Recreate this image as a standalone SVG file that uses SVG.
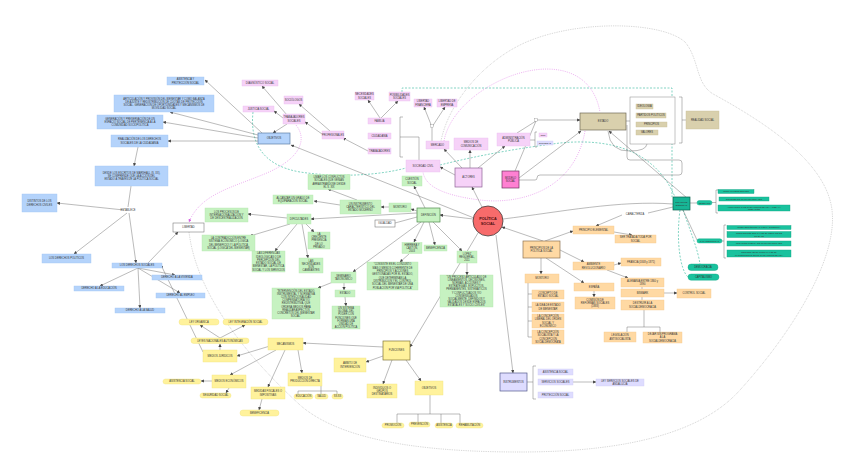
<svg xmlns="http://www.w3.org/2000/svg" width="848" height="471" viewBox="0 0 848 471">
<defs>
<style>
text{font-family:"Liberation Sans",Arial,sans-serif;font-size:2.6px;fill:#333;text-anchor:middle}
.b{fill:#b4d3fb;stroke:#a2c5f2;stroke-width:.4}
.p{fill:#f6d2f8;stroke:#ecbdf0;stroke-width:.4}
.g{fill:#c6f2c1;stroke:#b3e6ae;stroke-width:.4}
.t{fill:#d9d0ad;stroke:#c9bf98;stroke-width:.4}
.o{fill:#ffd9a3;stroke:#f2c98e;stroke-width:.4}
.y{fill:#fff29c;stroke:#f1e37f;stroke-width:.4}
.tl{fill:#19c29e;stroke:#12a383;stroke-width:.4}
.l{fill:#dedcff;stroke:#cfccf5;stroke-width:.4}
.w{fill:#fff;stroke:#666;stroke-width:.5}
.e{fill:none;stroke:#666;stroke-width:.45}
.ea{fill:none;stroke:#666;stroke-width:.45;marker-end:url(#ar)}
.mg{fill:none;stroke:#e07ce8;stroke-width:.6;stroke-dasharray:1 1.2}
.td{fill:none;stroke:#2fb79a;stroke-width:.6;stroke-dasharray:2 1.5}
.gd{fill:none;stroke:#9a9a9a;stroke-width:.5;stroke-dasharray:.8 1}
</style>
<marker id="ar" viewBox="0 0 6 6" refX="5.5" refY="3" markerWidth="3.2" markerHeight="3.2" markerUnits="userSpaceOnUse" orient="auto"><path d="M0 0L6 3L0 6z" fill="#444"/></marker>
<marker id="am" viewBox="0 0 6 6" refX="5.5" refY="3" markerWidth="3.2" markerHeight="3.2" markerUnits="userSpaceOnUse" orient="auto"><path d="M0 0L6 3L0 6z" fill="#d65ce0"/></marker>
</defs>
<rect width="848" height="471" fill="#fff"/>

<g id="background-curves">
<path class="gd" d="M189 232 C196 290 240 350 300 405 C340 440 420 452 520 452 C620 452 700 435 740 390 C790 335 838 260 832 210 C826 160 760 120 715 95 C695 85 700 60 685 42 C660 20 570 20 520 45 C480 65 448 105 441 141"/>
<path class="mg" d="M296 125 C308 140 300 160 262 175 C230 188 200 195 189 222" marker-end="url(#am)"/>
<path class="mg" d="M444 141 C455 80 585 30 600 112"/>
<path class="mg" d="M585 131 C575 190 520 205 480 200 C440 195 425 185 423 172"/>
<path class="td" d="M402 92 L402 88 L672 88 L672 197"/>
<path class="td" d="M253 112 C250 140 260 165 300 172 C340 178 380 175 406 168"/>
<path class="td" d="M440 165 C480 155 520 148 560 143 C610 138 655 150 675 197"/>
<path class="td" d="M683 210 C690 230 698 250 700 264"/>
<path class="td" d="M680 210 C676 240 680 270 688 277"/>
</g>

<g id="connectors">
<path class="ea" d="M262 133L205 80"/>
<path class="ea" d="M258 135L170 112"/>
<path class="ea" d="M258 138L163 122"/>
<path class="ea" d="M258 141L168 141"/>
<path class="ea" d="M138 147L134 166"/>
<path class="e" d="M131 186L128 207"/>
<path class="ea" d="M124 210L57 203"/>
<path class="ea" d="M127 213L74 254"/>
<path class="ea" d="M129 213L136 263"/>
<path class="ea" d="M138 268L175 275"/>
<path class="ea" d="M138 268L100 286"/>
<path class="ea" d="M138 268L180 293"/>
<path class="ea" d="M138 268L140 308"/>
<path class="ea" d="M148 263L178 232"/>
<path class="ea" d="M203 352L161 265"/>
<path class="ea" d="M287 115L262 86"/>
<path class="ea" d="M283 118L274 111"/>
<path class="ea" d="M287 124L273 133"/>
<path class="ea" d="M330 131L299 104"/>
<path class="ea" d="M322 134L305 122"/>
<path class="ea" d="M368 151L343 138"/>
<path class="ea" d="M380 118L368 100"/>
<path class="ea" d="M381 118L398 101"/>
<path class="e" d="M403 117L400 117L400 157L403 157M400 137L419 137L419 160"/>
<path class="e" d="M432 141L432 127"/>
<path class="ea" d="M432 127L424 107"/>
<path class="ea" d="M432 127L445 107"/>
<rect x="430.8" y="124.5" width="2.4" height="2.6" fill="#fff" stroke="#777" stroke-width=".3"/>
<path class="ea" d="M462 168L444 149"/>
<path class="ea" d="M470 168L470 150"/>
<path class="ea" d="M478 168L505 146"/>
<path class="ea" d="M455 175L440 167"/>
<path class="ea" d="M482 207L472 187"/>
<path class="e" d="M517 133L536 121"/>
<path class="ea" d="M536 120L580 120"/>
<path class="e" d="M515 171L536 121"/>
<rect x="534.8" y="118.7" width="2.4" height="2.6" fill="#fff" stroke="#777" stroke-width=".3"/>
<path class="e" d="M530 140L535 140M537 132L535 132L535 147L537 147"/>
<path class="ea" d="M519 178L581 131"/>
<path class="e" d="M519 180L535 180Q537 180 537 178Q537 175 540 175L679 175Q682 175 682 172L682 163Q682 160 679 160L630 160Q627 160 627 157L627 125"/>
<path class="e" d="M626 121L630 121"/>
<path class="e" d="M608 131Q610 152 630 151Q646 151 647 144"/>
<path class="e" d="M679 97L682 97L682 143L679 143M682 120L686 120"/>
<path class="ea" d="M687 198L609 131"/>
<path class="e" d="M503 219C560 212 620 200 673 204"/>
<path class="e" d="M673 207L648 213"/>
<path class="ea" d="M622 215L596 226"/>
<path class="e" d="M690 203L697 203"/>
<path class="e" d="M683 210L697 240"/>
<path class="e" d="M712 202.5L716 202.5M718 190L716 190L716 213L718 213"/>
<path class="e" d="M722 241L724 241M726 225L724 225L724 258L726 258"/>
<path class="ea" d="M473 219L440 215"/>
<path class="ea" d="M543 241L502 227"/>
<path class="ea" d="M496 235L513 373"/>
<path class="ea" d="M478 233L410 347"/>
<path class="ea" d="M425 208L414 186"/>
<path class="ea" d="M417 211L411 209"/>
<path class="ea" d="M389 207L381 207"/>
<path class="ea" d="M357 200L328 189"/>
<path class="ea" d="M340 205L314 201"/>
<path class="ea" d="M417 213L311 219"/>
<path class="e" d="M395 223L417 217"/>
<path class="ea" d="M424 222L414 242"/>
<path class="ea" d="M429 222L435 245"/>
<path class="ea" d="M433 222L462 251"/>
<path class="ea" d="M421 222L353 272"/>
<path class="ea" d="M409 254L400 262"/>
<path class="ea" d="M467 263L467 275"/>
<path class="ea" d="M287 218L248 214"/>
<path class="ea" d="M290 224L250 236"/>
<path class="ea" d="M297 224L275 251"/>
<path class="ea" d="M302 224L308 258"/>
<path class="ea" d="M306 224L314 232"/>
<path class="ea" d="M333 282L318 288"/>
<path class="ea" d="M344 283L344 290"/>
<path class="ea" d="M345 297L346 306"/>
<path class="ea" d="M474 218L291 145"/>
<path class="ea" d="M383 347L303 343"/>
<path class="ea" d="M383 356L366 362"/>
<path class="ea" d="M392 360L383 384"/>
<path class="ea" d="M406 360L421 381"/>
<path class="e" d="M430 395L430 414M397 423L397 414L460 414L460 423M418 414L418 422M441 414L441 423"/>
<path class="ea" d="M270 346L237 356"/>
<path class="ea" d="M276 350L230 375"/>
<path class="ea" d="M285 350L268 387"/>
<path class="ea" d="M298 350L302 373"/>
<path class="ea" d="M220 350L220 344"/>
<path class="ea" d="M220 338L200 325"/>
<path class="ea" d="M220 338L245 325"/>
<path class="ea" d="M212 381L201 381"/>
<path class="ea" d="M229 388L226 393"/>
<path class="ea" d="M262 399L259 410"/>
<path class="e" d="M321 386L321 394M298 394L298 391L337 391L337 394"/>
<path class="e" d="M527 382L533 382M536 366L533 366L533 399L536 399"/>
<path class="ea" d="M573 382L596 382"/>
<path class="ea" d="M545 241L573 231"/>
<path class="ea" d="M614 232L632 235"/>
<path class="ea" d="M560 250L584 262"/>
<path class="ea" d="M614 265L621 263"/>
<path class="ea" d="M607 270L628 278"/>
<path class="e" d="M642 287L642 289M642 297L642 300"/>
<path class="ea" d="M664 293L677 293"/>
<path class="e" d="M644 310L644 327M627 332L627 327L660 327L660 332"/>
<path class="ea" d="M541 258L541 274"/>
<path class="ea" d="M546 258L584 283"/>
<path class="ea" d="M594 291L594 297"/>
<path class="e" d="M528 283L528 337M528 294L532 294M528 307L532 307M528 321L532 321M528 337L532 337"/>
</g>

<g id="n-asist"><rect class="b" x="167" y="77" width="37" height="8"/><text><tspan x="185.5" y="80.3">ASISTENCIA Y</tspan><tspan x="185.5" y="83.6">PROTECCIÓN SOCIAL</tspan></text></g>
<g id="n-artic"><rect class="b" x="114" y="95" width="100" height="17"/><text><tspan x="164" y="99.5">ARTICULACIÓN Y PROVISIÓN DEL BIENESTAR Y COMO BALANZA</tspan><tspan x="164" y="102.8">DE AJUSTE Y REDISTRIBUCIÓN DE CUOTAS DE PROTECCIÓN</tspan><tspan x="164" y="106.1">SOCIAL. GENERACIÓN DE OPORTUNIDADES Y MECANISMOS DE</tspan><tspan x="164" y="109.4">MOVILIDAD SOCIAL</tspan></text></g>
<g id="n-gener"><rect class="b" x="97" y="115" width="66" height="14"/><text><tspan x="130" y="119.6">GENERACIÓN Y PRESERVACIÓN DE UN</tspan><tspan x="130" y="122.9">ESPACIO SOCIAL DE PERTENENCIA A LA</tspan><tspan x="130" y="126.2">COMUNIDAD SOCIOPOLÍTICA</tspan></text></g>
<g id="n-realiz"><rect class="b" x="111" y="135" width="57" height="12"/><text><tspan x="139.5" y="140.3">REALIZACIÓN DE LOS DERECHOS</tspan><tspan x="139.5" y="143.6">SOCIALES DE LA CIUDADANÍA</tspan></text></g>
<g id="n-desde"><rect class="b" x="95" y="166" width="73" height="20"/><text><tspan x="131.5" y="173.6">DESDE LOS ESCRITOS DE MARSHALL (S. XX),</tspan><tspan x="131.5" y="176.9">SE COMPRENDE QUE LA ACCIÓN DEL</tspan><tspan x="131.5" y="180.2">ESTADO A TRAVÉS DE LA POLÍTICA SOCIAL</tspan></text></g>
<g id="n-establece"><text x="128" y="210.9">ESTABLECE</text></g>
<g id="n-distintos"><rect class="b" x="22" y="194" width="35" height="18"/><text><tspan x="39.5" y="202.3">DISTINTOS DE LOS</tspan><tspan x="39.5" y="205.6">DERECHOS CIVILES</tspan></text></g>
<g id="n-politicos"><rect class="b" x="42" y="254" width="49" height="9"/><text x="66.5" y="259.4">LOS DERECHOS POLÍTICOS</text></g>
<g id="n-sociales"><rect class="b" x="112" y="263" width="50" height="5"/><text x="137" y="266.4">LOS DERECHOS SOCIALES</text></g>
<g id="n-vivienda"><rect class="b" x="152" y="275" width="50" height="5"/><text x="177" y="278.4">DERECHO A LA VIVIENDA</text></g>
<g id="n-educacion"><rect class="b" x="74" y="286" width="50" height="5"/><text x="99" y="289.4">DERECHO A LA EDUCACIÓN</text></g>
<g id="n-empleo"><rect class="b" x="156" y="293" width="49" height="5"/><text x="180.5" y="296.4">DERECHO AL EMPLEO</text></g>
<g id="n-salud"><rect class="b" x="115" y="308" width="50" height="5"/><text x="140" y="311.4">DERECHO A LA SALUD</text></g>
<g id="n-objetivos"><rect class="b" x="258" y="133" width="32" height="11" style="stroke:#5d7fa6;stroke-width:.7"/><text x="274" y="139.4">OBJETIVOS</text></g>

<g id="n-diag"><rect class="p" x="242" y="80" width="36" height="6"/><text x="260" y="83.9">DIAGNÓSTICO SOCIAL</text></g>
<g id="n-justicia"><rect class="p" x="243" y="106" width="31" height="6"/><text x="258.5" y="109.9">JUSTICIA SOCIAL</text></g>
<g id="n-sociologos"><rect class="p" x="284" y="96" width="19" height="8"/><text x="293.5" y="100.9">SOCIÓLOGOS</text></g>
<g id="n-trabsoc"><rect class="p" x="283" y="114" width="22" height="10"/><text><tspan x="294" y="118.3">TRABAJADORES</tspan><tspan x="294" y="121.6">SOCIALES</tspan></text></g>
<g id="n-profes"><rect class="p" x="322" y="131" width="22" height="8"/><text x="333" y="135.9">PROFESIONALES</text></g>
<g id="n-necesid"><rect class="p" x="355" y="92" width="19" height="8"/><text><tspan x="364.5" y="95.3">NECESIDADES</tspan><tspan x="364.5" y="98.6">SOCIALES</tspan></text></g>
<g id="n-posib"><rect class="p" x="389" y="92" width="21" height="9"/><text><tspan x="399.5" y="95.8">POSIBILIDADES</tspan><tspan x="399.5" y="99.1">SOCIALES</tspan></text></g>
<g id="n-familia"><rect class="p" x="368" y="118" width="23" height="6"/><text x="379.5" y="121.9">FAMILIA</text></g>
<g id="n-ciudadania"><rect class="p" x="368" y="133" width="23" height="6"/><text x="379.5" y="136.9">CIUDADANÍA</text></g>
<g id="n-trabajadores"><rect class="p" x="368" y="148" width="23" height="6"/><text x="379.5" y="151.9">TRABAJADORES</text></g>
<g id="n-libfin"><rect class="p" x="414" y="99" width="18" height="8"/><text><tspan x="423" y="102.3">LIBERTAD</tspan><tspan x="423" y="105.6">FINANCIERA</tspan></text></g>
<g id="n-libemp"><rect class="p" x="437" y="99" width="20" height="8"/><text><tspan x="447" y="102.3">LIBERTAD DE</tspan><tspan x="447" y="105.6">EMPRESA</tspan></text></g>
<g id="n-mercado"><rect class="p" x="426" y="141" width="23" height="8"/><text x="437.5" y="145.9">MERCADO</text></g>
<g id="n-medios"><rect class="p" x="454" y="138" width="34" height="12"/><text><tspan x="471" y="143.3">MEDIOS DE</tspan><tspan x="471" y="146.6">COMUNICACIÓN</tspan></text></g>
<g id="n-admin"><rect class="p" x="497" y="133" width="33" height="13"/><text><tspan x="513.5" y="138.8">ADMINISTRACIÓN</tspan><tspan x="513.5" y="142.1">PÚBLICA</tspan></text></g>
<g id="n-socciv"><rect class="p" x="406" y="160" width="34" height="12"/><text x="423" y="166.9">SOCIEDAD CIVIL</text></g>
<g id="n-actores"><rect class="p" x="455" y="168" width="27" height="19" style="stroke:#8e6196;stroke-width:.7"/><text x="468.5" y="178.4">ACTORES</text></g>
<g id="n-ong"><rect class="p" x="539" y="133" width="8" height="4"/><text x="543" y="135.9" style="font-size:2.2px">ONG</text></g>
<g id="n-empresas"><rect class="l" x="537" y="141" width="16" height="4"/><text x="545" y="143.9" style="font-size:2.2px">EMPRESAS</text></g>
<g id="n-modelo"><rect x="502" y="171" width="17" height="17" fill="#ff80d2" stroke="#6d3560" stroke-width=".7"/><text><tspan x="510.5" y="178.8">MODELO</tspan><tspan x="510.5" y="182.1">SOCIAL</tspan></text></g>

<g id="n-estado"><rect class="t" x="580" y="113" width="46" height="17" style="stroke:#6f6a58;stroke-width:.7"/><text x="603" y="122.4">ESTADO</text></g>
<g id="n-ideobox"><rect x="630" y="97" width="45" height="47" fill="#fff" stroke="#888" stroke-width=".5"/></g>
<g id="n-ideologia"><rect class="t" x="636" y="104" width="17" height="5"/><text x="644.5" y="107.4">IDEOLOGÍA</text></g>
<g id="n-partidos"><rect class="t" x="636" y="113" width="30" height="5"/><text x="651" y="116.4">PARTIDOS POLÍTICOS</text></g>
<g id="n-principios"><rect class="t" x="636" y="122" width="31" height="5"/><text x="651.5" y="125.4">PRINCIPIOS</text></g>
<g id="n-valores"><rect class="t" x="636" y="130" width="22" height="5"/><text x="647" y="133.4">VALORES</text></g>
<g id="n-realidad"><rect class="t" x="686" y="111" width="33" height="18"/><text x="702.5" y="120.9">REALIDAD SOCIAL</text></g>

<g id="n-limar"><rect class="g" x="308" y="174.5" width="42" height="15"/><text><tspan x="329" y="178">LIMAR LOS CONFLICTOS</tspan><tspan x="329" y="181.3">SOCIALES QUE VENÍAN</tspan><tspan x="329" y="184.6">ARRASTRÁNDOSE DESDE</tspan><tspan x="329" y="187.9">EL S. XIX</tspan></text></g>
<g id="n-alcanzar"><rect class="g" x="273" y="195" width="40" height="9"/><text><tspan x="293" y="198.8">ALCANZAR UN GRADO DE</tspan><tspan x="293" y="202.1">EQUIPARACIÓN SOCIAL</tspan></text></g>
<g id="n-instrum"><rect class="g" x="340" y="200" width="41" height="14"/><text><tspan x="360.5" y="204.6">UN INSTRUMENTO</tspan><tspan x="360.5" y="207.9">CARACTERÍSTICO DEL</tspan><tspan x="360.5" y="211.2">ESTADO MODERNO</tspan></text></g>
<g id="n-montoro-g"><rect class="g" x="389" y="203" width="22" height="9"/><text x="400" y="208.4">MONTORO</text></g>
<g id="n-definicion"><rect class="g" x="417" y="208" width="23" height="14" style="stroke:#4f8a4c;stroke-width:.7"/><text x="428.5" y="215.9">DEFINICIÓN</text></g>
<g id="n-cuestion"><rect class="g" x="402" y="176" width="20" height="10"/><text><tspan x="412" y="180.3">CUESTIÓN</tspan><tspan x="412" y="183.6">SOCIAL</tspan></text></g>
<g id="n-igualdad"><rect class="w" x="375" y="220" width="20" height="7"/><text x="385" y="224.4">IGUALDAD</text></g>
<g id="n-dificult"><rect class="g" x="287" y="214" width="24" height="10"/><text x="299" y="219.9">DIFICULTADES</text></g>
<g id="n-procesos"><rect class="g" x="205" y="208" width="43" height="14"/><text><tspan x="226.5" y="212.6">LOS PROCESOS DE</tspan><tspan x="226.5" y="215.9">INTERNACIONALIZACIÓN Y</tspan><tspan x="226.5" y="219.2">DE DESCENTRALIZACIÓN</tspan></text></g>
<g id="n-contrad"><rect class="g" x="202" y="235" width="53" height="16"/><text><tspan x="228.5" y="239">LA CONTRADICCIÓN ENTRE</tspan><tspan x="228.5" y="242.3">SISTEMA ECONÓMICO (LÓGICA</tspan><tspan x="228.5" y="245.6">DEL BENEFICIO) Y LA POLÍTICA</tspan><tspan x="228.5" y="248.9">SOCIAL (LÓGICA DEL BIENESTAR)</tspan></text></g>
<g id="n-diferenc"><rect class="g" x="252" y="251" width="33" height="21"/><text><tspan x="268.5" y="254.2">LAS DIFERENCIAS</tspan><tspan x="268.5" y="257.5">IDEOLÓGICAS O DE</tspan><tspan x="268.5" y="260.8">PERCEPCIÓN DEL</tspan><tspan x="268.5" y="264.1">ESTADO SOCIAL DE</tspan><tspan x="268.5" y="267.4">BIENESTAR, LA POLÍTICA</tspan><tspan x="268.5" y="270.7">SOCIAL Y LOS SERVICIOS</tspan></text></g>
<g id="n-cambiantes"><rect class="g" x="299" y="258" width="24" height="15"/><text><tspan x="311" y="261.5">LAS</tspan><tspan x="311" y="264.8">NECESIDADES</tspan><tspan x="311" y="268.1">SON</tspan><tspan x="311" y="271.4">CAMBIANTES</tspan></text></g>
<g id="n-creciente"><rect class="g" x="308" y="232" width="22" height="17"/><text><tspan x="319" y="234.8">LA</tspan><tspan x="319" y="238.1">CRECIENTE</tspan><tspan x="319" y="241.4">PRESENCIA</tspan><tspan x="319" y="244.7">DE LO</tspan><tspan x="319" y="248">PRIVADO</tspan></text></g>
<g id="n-herrera"><rect class="g" x="402" y="242.5" width="20" height="11"/><text><tspan x="412" y="245.6">HERRERA Y</tspan><tspan x="412" y="248.9">CASTÓN,</tspan><tspan x="412" y="252.2">2003</tspan></text></g>
<g id="n-benef-g"><rect class="g" x="424" y="245" width="23" height="6"/><text x="435.5" y="248.9">BENEFICENCIA</text></g>
<g id="n-lopez"><rect class="g" x="457" y="251" width="20" height="12"/><text><tspan x="467" y="254.6">LÓPEZ</tspan><tspan x="467" y="257.9">REGUERIAL,</tspan><tspan x="467" y="261.2">2011</tspan></text></g>
<g id="n-consiste"><rect class="g" x="367" y="262" width="51" height="28"/><text><tspan x="392.5" y="265.4">"CONSISTE EN EL CONJUNTO</tspan><tspan x="392.5" y="268.7">MÁS O MENOS COHERENTE DE</tspan><tspan x="392.5" y="272">PRINCIPIOS Y ACCIONES</tspan><tspan x="392.5" y="275.3">GESTIONADAS POR EL ESTADO,</tspan><tspan x="392.5" y="278.6">QUE DETERMINAN LA</tspan><tspan x="392.5" y="281.9">DISTRIBUCIÓN Y EL CONTROL</tspan><tspan x="392.5" y="285.2">SOCIAL DEL BIENESTAR DE UNA</tspan><tspan x="392.5" y="288.5">POBLACIÓN POR VÍA POLÍTICA"</tspan></text></g>
<g id="n-proceso"><rect class="g" x="440" y="275" width="53" height="32"/><text><tspan x="466.5" y="278">"UN PROCESO ARTICULADO DE</tspan><tspan x="466.5" y="281.1">LINEAMIENTOS, DECISIONES,</tspan><tspan x="466.5" y="284.2">NORMAS, ACCIONES Y</tspan><tspan x="466.5" y="287.3">ESTRATEGIAS, EXPLÍCITOS,</tspan><tspan x="466.5" y="290.4">PERMANENTES, SISTEMÁTICOS</tspan><tspan x="466.5" y="293.5">Y CONFLICTUADOS Y/O</tspan><tspan x="466.5" y="296.6">CONSENSUADOS</tspan><tspan x="466.5" y="299.7">SOCIALMENTE, DEFINIDOS Y</tspan><tspan x="466.5" y="302.8">VALIDADOS DESDE ESPACIOS</tspan><tspan x="466.5" y="305.9">ESTATALES Y SOCIO-CIVILES"</tspan></text></g>
<g id="n-seminario"><rect class="g" x="331" y="272" width="25" height="11"/><text><tspan x="343.5" y="276.8">SEMINARIO</tspan><tspan x="343.5" y="280.1">TAXONÓMICO</tspan></text></g>
<g id="n-estado-g"><rect class="g" x="335" y="290" width="20" height="7"/><text x="345" y="294.4">ESTADO</text></g>
<g id="n-sistema"><rect class="g" x="332" y="306" width="28" height="23"/><text><tspan x="346" y="309.2">UN SISTEMA</tspan><tspan x="346" y="312.3">GLOBAL DEL</tspan><tspan x="346" y="315.4">PODER CON</tspan><tspan x="346" y="318.5">FUNCIONES QUE</tspan><tspan x="346" y="321.6">FORMAN UNA</tspan><tspan x="346" y="324.7">UNIDAD DE</tspan><tspan x="346" y="327.8">ACCIÓN POLÍTICA</tspan></text></g>
<g id="n-interv"><rect class="g" x="272" y="288" width="48" height="31"/><text><tspan x="296" y="291.6">"INTERVENCIÓN DEL ESTADO,</tspan><tspan x="296" y="294.8">INSTRUMENTAL Y NORMATIVA</tspan><tspan x="296" y="298">CON INTENCIONALIDAD</tspan><tspan x="296" y="301.2">COMPENSATORIA Y/O</tspan><tspan x="296" y="304.4">REDISTRIBUTIVA, QUE</tspan><tspan x="296" y="307.6">ORDENA MEDIOS PARA</tspan><tspan x="296" y="310.8">REALIZAR ASPECTOS</tspan><tspan x="296" y="314">CONCRETOS DEL BIENESTAR</tspan><tspan x="296" y="317.2">SOCIAL"</tspan></text></g>
<g id="n-libertad"><rect class="w" x="173" y="223" width="31" height="9"/><text x="188.5" y="228.4">LIBERTAD</text></g>

<g id="n-politica-social"><circle cx="488" cy="221" r="15" fill="#f76b6b" stroke="#3d3d3d" stroke-width=".8"/><text style="font-size:3.8px;font-weight:bold;fill:#4a0b0b"><tspan x="488" y="220">POLÍTICA</tspan><tspan x="488" y="224.5">SOCIAL</tspan></text></g>

<g id="n-principios-ps"><rect class="o" x="523" y="241" width="37" height="17" style="stroke:#8d7353;stroke-width:.7"/><text><tspan x="541.5" y="248.8">PRINCIPIOS DE LA</tspan><tspan x="541.5" y="252.1">POLÍTICA SOCIAL</tspan></text></g>
<g id="n-elemental"><rect class="o" x="573" y="226" width="41" height="8"/><text x="593.5" y="230.9">PRINCIPIO ELEMENTAL</text></g>
<g id="n-ser"><rect class="o" x="615" y="235" width="41" height="8"/><text><tspan x="635.5" y="238.3">SER TRATADA TODA POR</tspan><tspan x="635.5" y="241.6">SOCIAL</tspan></text></g>
<g id="n-caracteriza"><text x="635" y="215">CARACTERIZA</text></g>
<g id="n-ambiente"><rect class="o" x="573" y="262" width="41" height="8"/><text><tspan x="593.5" y="265.3">AMBIENTE</tspan><tspan x="593.5" y="268.6">REVOLUCIONARIO</tspan></text></g>
<g id="n-francia"><rect class="o" x="621" y="258" width="40" height="8"/><text x="641" y="262.9">FRANCIA (1848 y 1871)</text></g>
<g id="n-alemania"><rect class="o" x="621" y="278" width="43" height="9"/><text><tspan x="642.5" y="281.8">ALEMANIA ENTRE 1860 y</tspan><tspan x="642.5" y="285.1">1890</tspan></text></g>
<g id="n-bismark"><rect class="o" x="621" y="289" width="43" height="8"/><text x="642.5" y="293.9">BISMARK</text></g>
<g id="n-control"><rect class="o" x="677" y="289" width="34" height="9"/><text x="694" y="294.4">CONTROL SOCIAL</text></g>
<g id="n-destruir"><rect class="o" x="621" y="300" width="43" height="10"/><text><tspan x="642.5" y="304.3">DESTRUIR A LA</tspan><tspan x="642.5" y="307.6">SOCIALDEMOCRACIA</tspan></text></g>
<g id="n-legis"><rect class="o" x="604" y="332" width="32" height="10"/><text><tspan x="620" y="336.3">LEGISLACIÓN</tspan><tspan x="620" y="339.6">ANTISOCIALISTA</tspan></text></g>
<g id="n-dejar"><rect class="o" x="643" y="332" width="39" height="11"/><text><tspan x="662.5" y="335.1">DEJAR SIN PROGRAMA</tspan><tspan x="662.5" y="338.4">A LA</tspan><tspan x="662.5" y="341.7">SOCIALDEMOCRACIA</tspan></text></g>
<g id="n-montoro-o"><rect class="o" x="525" y="274" width="34" height="9"/><text x="542" y="279.4">MONTORO</text></g>
<g id="n-concepto"><rect class="o" x="532" y="290" width="32" height="9"/><text><tspan x="548" y="293.8">CONCEPTO DE</tspan><tspan x="548" y="297.1">ESTADO SOCIAL</tspan></text></g>
<g id="n-idea"><rect class="o" x="532" y="302" width="32" height="10"/><text><tspan x="548" y="306.3">LA IDEA DE ESTADO</tspan><tspan x="548" y="309.6">DE BIENESTAR</tspan></text></g>
<g id="n-liberal"><rect class="o" x="532" y="314" width="32" height="14"/><text><tspan x="548" y="317">LA CONCEPCIÓN</tspan><tspan x="548" y="320.3">LIBERAL DEL ORDEN</tspan><tspan x="548" y="323.6">SOCIAL Y</tspan><tspan x="548" y="326.9">ECONÓMICO</tspan></text></g>
<g id="n-socialista"><rect class="o" x="532" y="330" width="32" height="14"/><text><tspan x="548" y="333">LA CONCEPCIÓN</tspan><tspan x="548" y="336.3">SOCIALISTA Y LA</tspan><tspan x="548" y="339.6">CONCEPCIÓN</tspan><tspan x="548" y="342.9">SOCIALDEMÓCRATA</tspan></text></g>
<g id="n-espana"><rect class="o" x="574" y="283" width="40" height="8"/><text x="594" y="287.9">ESPAÑA</text></g>
<g id="n-comision"><rect class="o" x="575" y="297" width="40" height="12"/><text><tspan x="595" y="300.6">COMISIÓN DE</tspan><tspan x="595" y="303.9">REFORMAS SOCIALES</tspan><tspan x="595" y="307.2">(1883)</tspan></text></g>

<g id="n-eb"><rect x="673" y="197" width="17" height="13" fill="#17b595" stroke="#0b5e4c" stroke-width=".7"/><text style="font-size:2.1px"><tspan x="681.5" y="202.8">ESTADO DE</tspan><tspan x="681.5" y="205.8">BIENESTAR</tspan></text></g>
<g id="n-obj-t"><rect class="tl" x="697" y="200.5" width="15" height="4.5" rx="2.2"/><text x="704.5" y="203.5" style="font-size:2.1px">OBJETIVOS</text></g>
<g id="n-pleno"><rect class="tl" x="718" y="189.5" width="36" height="4"/><text x="736" y="192.3" style="font-size:2.1px">LOGRAR PLENO EMPLEO</text></g>
<g id="n-disponer"><rect class="tl" x="719" y="197" width="50" height="4"/><text x="744" y="199.8" style="font-size:2.1px">DISPONER DE SS.SS UNIVERSALES</text></g>
<g id="n-aprov"><rect class="tl" x="718" y="205" width="72" height="6"/><text style="font-size:2.1px"><tspan x="754" y="207.6">APROVISIONAR DE NIVEL MÍNIMO DE VIDA A TODA LA</tspan><tspan x="754" y="210.1">POBLACIÓN</tspan></text></g>
<g id="n-carac"><rect class="tl" x="697" y="238.8" width="25" height="4.2" rx="2"/><text x="709.5" y="241.7" style="font-size:2.1px">CARACTERÍSTICAS</text></g>
<g id="n-c1"><rect class="tl" x="727" y="225.5" width="64" height="4"/><text x="759" y="228.3" style="font-size:2.1px">INTERVENCIÓN ESTATAL EN LA ECONOMÍA</text></g>
<g id="n-c2"><rect class="tl" x="727" y="231.5" width="64" height="6"/><text style="font-size:2.1px"><tspan x="759" y="234.1">INTERVENCIÓN ESTATAL EN EL MERCADO DE</tspan><tspan x="759" y="236.6">TRABAJO</tspan></text></g>
<g id="n-c3"><rect class="tl" x="727" y="241" width="64" height="5"/><text x="759" y="244.3" style="font-size:2.1px">PROVISIÓN PÚBLICA DE SS.SS UNIVERSALES</text></g>
<g id="n-c4"><rect class="tl" x="727" y="250" width="64" height="7"/><text style="font-size:2.1px"><tspan x="759" y="253">RESPONSABILIDAD ESTATAL EN EL</tspan><tspan x="759" y="255.6">MANTENIMIENTO DE UN NIVEL MÍNIMO DE VIDA</tspan></text></g>
<g id="n-democracia"><rect class="tl" x="688" y="264" width="30" height="6.5" rx="3.2"/><text x="703" y="268.2">DEMOCRACIA</text></g>
<g id="n-capitalismo"><rect class="tl" x="688" y="274" width="31" height="6.2" rx="3.1"/><text x="703.5" y="278">CAPITALISMO</text></g>

<g id="n-leyorg"><rect class="y" x="179" y="319" width="40" height="6" rx="3"/><text x="199" y="322.9">LEY ORGÁNICA</text></g>
<g id="n-leyint"><rect class="y" x="223" y="319" width="45" height="6" rx="3"/><text x="245.5" y="322.9">LEY INTEGRACIÓN SOCIAL</text></g>
<g id="n-leyesnac"><rect class="y" x="191" y="338" width="58" height="5.5" rx="2.7"/><text x="220" y="341.7">LEYES NACIONALES AUTONÓMICAS</text></g>
<g id="n-juridicos"><rect class="y" x="203" y="350" width="34" height="12"/><text x="220" y="356.9">MEDIOS JURÍDICOS</text></g>
<g id="n-mecanismos"><rect class="y" x="268" y="338" width="35" height="12"/><text x="285.5" y="344.9">MECANISMOS</text></g>
<g id="n-economicos"><rect class="y" x="212" y="375" width="34" height="13"/><text x="229" y="382.4">MEDIOS ECONÓMICOS</text></g>
<g id="n-asist-y"><rect class="y" x="163" y="379" width="38" height="5" rx="2.5"/><text x="182" y="382.4">ASISTENCIA SOCIAL</text></g>
<g id="n-seg"><rect class="y" x="200" y="393" width="31" height="5" rx="2.5"/><text x="215.5" y="396.4">SEGURIDAD SOCIAL</text></g>
<g id="n-fiscales"><rect class="y" x="251" y="387" width="34" height="12"/><text><tspan x="268" y="392.3">MEDIDAS FISCALES O</tspan><tspan x="268" y="395.6">IMPOSITIVAS</tspan></text></g>
<g id="n-benef-y"><rect class="y" x="240" y="410" width="39" height="6" rx="3"/><text x="259.5" y="413.9">BENEFICENCIA</text></g>
<g id="n-produccion"><rect class="y" x="288" y="373" width="34" height="13"/><text><tspan x="305" y="378.8">MEDIOS DE</tspan><tspan x="305" y="382.1">PRODUCCIÓN DIRECTA</tspan></text></g>
<g id="n-educ-y"><rect class="y" x="294" y="394" width="19" height="5" rx="2.5"/><text x="303.5" y="397.4">EDUCACIÓN</text></g>
<g id="n-salud-y"><rect class="y" x="315" y="394" width="13" height="5" rx="2.5"/><text x="321.5" y="397.4">SALUD</text></g>
<g id="n-ssss"><rect class="y" x="332" y="394" width="11" height="5" rx="2.5"/><text x="337.5" y="397.4">SS.SS</text></g>
<g id="n-funciones"><rect class="y" x="383" y="341" width="27" height="19" style="stroke:#807638;stroke-width:.7"/><text x="396.5" y="351.4">FUNCIONES</text></g>
<g id="n-ambito"><rect class="y" x="334" y="358" width="32" height="14"/><text><tspan x="350" y="364.3">ÁMBITO DE</tspan><tspan x="350" y="367.6">INTERVENCIÓN</tspan></text></g>
<g id="n-individuos"><rect class="y" x="367" y="384" width="30" height="14"/><text><tspan x="382" y="388.6">INDIVIDUOS O</tspan><tspan x="382" y="391.9">GRUPOS</tspan><tspan x="382" y="395.2">DESTINATARIOS</tspan></text></g>
<g id="n-objetivos-y"><rect class="y" x="415" y="381" width="28" height="14"/><text x="429" y="388.9">OBJETIVOS</text></g>
<g id="n-promocion"><rect class="y" x="382" y="423" width="22" height="5" rx="2.5"/><text x="393" y="426.4">PROMOCIÓN</text></g>
<g id="n-prevencion"><rect class="y" x="409" y="422" width="21" height="5" rx="2.5"/><text x="419.5" y="425.4">PREVENCIÓN</text></g>
<g id="n-asistencia-y"><rect class="y" x="435" y="423" width="18" height="5" rx="2.5"/><text x="444" y="426.4">ASISTENCIA</text></g>
<g id="n-rehab"><rect class="y" x="456" y="423" width="27" height="5" rx="2.5"/><text x="469.5" y="426.4">REHABILITACIÓN</text></g>

<g id="n-instrumentos"><rect class="l" x="500" y="373" width="27" height="18" style="stroke:#545a8c;stroke-width:.7"/><text x="513.5" y="382.9">INSTRUMENTOS</text></g>
<g id="n-l-asist"><rect class="l" x="538" y="369" width="35" height="6"/><text x="555.5" y="372.9">ASISTENCIA SOCIAL</text></g>
<g id="n-l-serv"><rect class="l" x="538" y="379" width="35" height="6"/><text x="555.5" y="382.9">SERVICIOS SOCIALES</text></g>
<g id="n-l-ley"><rect class="l" x="596" y="379" width="48" height="7"/><text><tspan x="620" y="381.9">LEY SERVICIOS SOCIALES DE</tspan><tspan x="620" y="384.9">ANDALUCÍA</tspan></text></g>
<g id="n-l-prot"><rect class="l" x="538" y="392" width="35" height="6"/><text x="555.5" y="395.9">PROTECCIÓN SOCIAL</text></g>
</svg>
